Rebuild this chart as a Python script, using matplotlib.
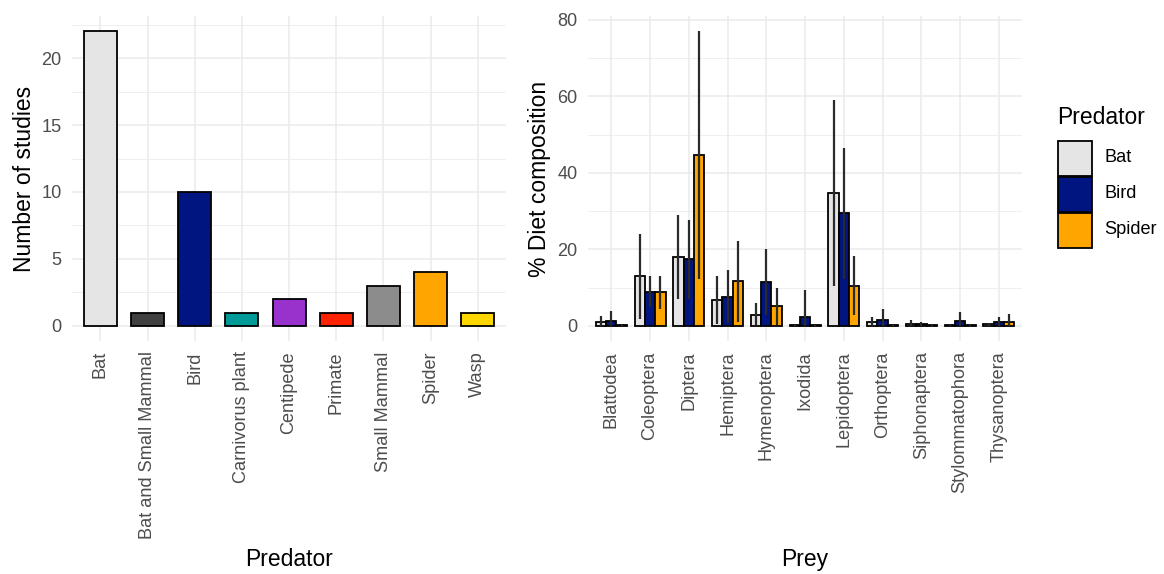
import numpy as np
import matplotlib
matplotlib.use("Agg")
import matplotlib.pyplot as plt
from matplotlib.patches import Rectangle
from matplotlib.ticker import MultipleLocator

plt.rcParams['font.family'] = ['Liberation Sans', 'DejaVu Sans']

# left panel: number of studies per predator
predators = ["Bat", "Bat and Small Mammal", "Bird", "Carnivorus plant", "Centipede",
             "Primate", "Small Mammal", "Spider", "Wasp"]
n_studies = [22, 1, 10, 1, 2, 1, 3, 4, 1]
pred_colors = ["#E5E5E5", "#404040", "#001580", "#009B98", "#9932CC",
               "#FF2200", "#8C8C8C", "#FFA500", "#FFD700"]

# right panel: diet composition by prey order
prey = ["Blattodea", "Coleoptera", "Diptera", "Hemiptera", "Hymenoptera", "Ixodida",
        "Lepidoptera", "Orthoptera", "Siphonaptera", "Stylommatophora", "Thysanoptera"]
groups = ["Bat", "Bird", "Spider"]
group_colors = ["#E5E5E5", "#001580", "#FFA500"]

bat_mean = [0.95, 13.0, 18.0, 6.8, 2.7, 0.15, 34.8, 1.1, 0.4, 0.1, 0.4]
bird_mean = [1.3, 8.9, 17.5, 7.5, 11.5, 2.3, 29.5, 1.4, 0.35, 1.3, 1.0]
spider_mean = [0.1, 8.9, 44.6, 11.7, 5.3, 0.1, 10.4, 0.1, 0.1, 0.1, 1.1]

bat_lo = [0, 1.7, 6.9, 0.6, 0.3, 0, 10.4, 0, 0, 0, 0]
bat_hi = [2.5, 24.1, 28.9, 13.0, 5.9, 0.15, 59.0, 2.4, 1.4, 0.1, 0.7]
bird_lo = [0, 4.8, 6.9, 0.7, 2.8, 0, 12.3, 0, 0, 0, 0]
bird_hi = [3.8, 13.0, 27.8, 14.5, 20.1, 9.3, 46.4, 4.4, 0.9, 3.5, 2.3]
spider_lo = [0, 4.5, 12.3, 1.1, 0.3, 0, 2.7, 0, 0, 0, 0]
spider_hi = [0.1, 13.0, 77.0, 22.3, 10.0, 0.1, 18.2, 0.1, 0.1, 0.1, 3.0]

means = [bat_mean, bird_mean, spider_mean]
lows = [bat_lo, bird_lo, spider_lo]
highs = [bat_hi, bird_hi, spider_hi]

grid_col = "#EBEBEB"
tick_col = "#4D4D4D"
tick_fs = 13.1
title_fs = 16.5

W, H = 1164, 574
fig = plt.figure(figsize=(W / 100, H / 100), dpi=100)
ax1 = fig.add_axes([0.0619, 0.4064, 0.3729, 0.5649])
ax2 = fig.add_axes([0.5052, 0.4064, 0.3729, 0.5649])

def style(ax):
    for s in ax.spines.values():
        s.set_visible(False)
    ax.set_axisbelow(True)
    ax.grid(which="major", color=grid_col, linewidth=1.1)
    ax.grid(which="minor", axis="y", color=grid_col, linewidth=0.55)
    ax.tick_params(which="both", length=0, colors=tick_col, labelsize=tick_fs)
    ax.tick_params(axis="x", pad=7.5)
    ax.tick_params(axis="y", pad=7.5)

# left
x1 = np.arange(len(predators))
ax1.bar(x1, n_studies, width=0.7, color=pred_colors, edgecolor="black", linewidth=1.3)
ax1.set_xlim(-0.6, len(predators) - 0.4)
ax1.set_ylim(-1.1, 23.1)
ax1.yaxis.set_major_locator(MultipleLocator(5))
ax1.yaxis.set_minor_locator(MultipleLocator(2.5))
ax1.set_xticks(x1)
ax1.set_xticklabels(predators, rotation=90, ha="center", va="top")
style(ax1)
ax1.set_ylabel("Number of studies", fontsize=title_fs, labelpad=4)
ax1.set_xlabel("Predator", fontsize=title_fs)
ax1.xaxis.set_label_coords(0.5, -0.6394)

# right
x2 = np.arange(len(prey))
w = 0.8 / 3
for i, g in enumerate(groups):
    xs = x2 + (i - 1) * w
    ax2.bar(xs, means[i], width=w, color=group_colors[i], edgecolor="black",
            linewidth=1.3, label=g)
    ax2.vlines(xs, lows[i], highs[i], color="#2a2a2a", linewidth=1.6, zorder=4)
ax2.set_xlim(-0.6, len(prey) - 0.4)
ax2.set_ylim(-3.9, 80.9)
ax2.yaxis.set_major_locator(MultipleLocator(20))
ax2.yaxis.set_minor_locator(MultipleLocator(10))
ax2.set_xticks(x2)
ax2.set_xticklabels(prey, rotation=90, ha="center", va="top")
style(ax2)
ax2.set_ylabel("% Diet composition", fontsize=title_fs, labelpad=5)
ax2.set_xlabel("Prey", fontsize=title_fs)
ax2.xaxis.set_label_coords(0.5, -0.6394)

# legend drawn by hand so the keys sit flush like ggplot's
def fx(px):
    return px / W

def fy(py):
    return 1 - py / H

fig.text(fx(1057), fy(118), "Predator", fontsize=title_fs, ha="left", va="center")
key_top = 141
key_h = 36
for i, g in enumerate(groups):
    top = key_top + i * key_h
    fig.add_artist(Rectangle((fx(1058), fy(top + key_h - 1.5)), fx(34), (key_h - 1.5) / H,
                             transform=fig.transFigure, facecolor=group_colors[i],
                             edgecolor="black", linewidth=1.3))
    fig.text(fx(1104), fy(top + key_h / 2 - 1), g, fontsize=tick_fs, ha="left",
             va="center", color="black")

fig.savefig("out.png", dpi=100, facecolor="white")
